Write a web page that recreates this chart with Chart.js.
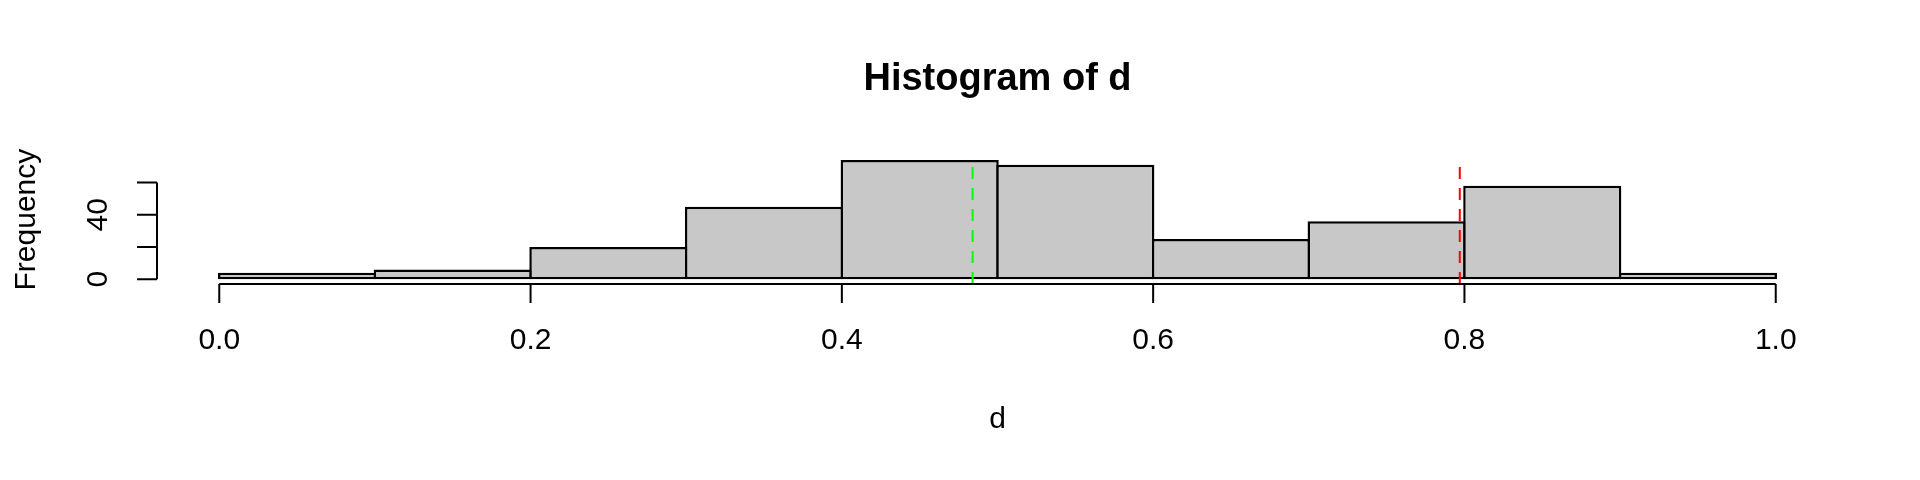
<!DOCTYPE html>
<html>
<head>
<meta charset="utf-8">
<script src="https://cdn.jsdelivr.net/npm/chart.js@4.4.1/dist/chart.umd.min.js"></script>
<style>
  html, body { margin: 0; padding: 0; background: #fff; }
  .chart-wrap { width: 1920px; height: 480px; }
</style>
</head>
<body>
<div class="chart-wrap"><canvas id="histChart"></canvas></div>
<script>
// histogram data
const breaks = [0, 0.1, 0.2, 0.3, 0.4, 0.5, 0.6, 0.7, 0.8, 0.9, 1.0];
const counts = [4, 6, 20, 45, 74, 71, 25, 36, 58, 4];

// dashed reference lines
const meanD = 0.484;
const refD = 0.797;
const refTop = 70;

// ticks
const xTicks = [0, 0.2, 0.4, 0.6, 0.8, 1.0];
const yTicks = [0, 20, 40, 60];
const yTickLabels = ['0', '', '40', ''];

const fontFamily = '"Liberation Sans", Arial, Helvetica, sans-serif';

// R style axis range: data range + 4% each side
const yMax = Math.max(...counts) * 1.04;
const yMin = -Math.max(...counts) * 0.04;
const xMin = breaks[0] - 0.04 * (breaks[breaks.length - 1] - breaks[0]);
const xMax = breaks[breaks.length - 1] + 0.04 * (breaks[breaks.length - 1] - breaks[0]);

const barData = counts.map((c, i) => ({ x: (breaks[i] + breaks[i + 1]) / 2, y: c }));

// axes drawn like base R graphics (lines only span the tick range)
const rAxes = {
  id: 'rAxes',
  afterDatasetsDraw(chart) {
    const { ctx, chartArea } = chart;
    const x = chart.scales.x;
    const y = chart.scales.y;
    ctx.save();
    ctx.strokeStyle = '#000';
    ctx.fillStyle = '#000';
    ctx.lineWidth = 2;
    ctx.font = '30px ' + fontFamily;

    // x axis
    const xb = chartArea.bottom;
    ctx.beginPath();
    ctx.moveTo(x.getPixelForValue(xTicks[0]), xb);
    ctx.lineTo(x.getPixelForValue(xTicks[xTicks.length - 1]), xb);
    xTicks.forEach((v) => {
      const px = x.getPixelForValue(v);
      ctx.moveTo(px, xb);
      ctx.lineTo(px, xb + 19);
    });
    ctx.stroke();
    ctx.textAlign = 'center';
    ctx.textBaseline = 'middle';
    xTicks.forEach((v) => {
      ctx.fillText(v.toFixed(1), x.getPixelForValue(v), xb + 57);
    });

    // y axis
    const yl = chartArea.left;
    ctx.beginPath();
    ctx.moveTo(yl, y.getPixelForValue(yTicks[0]));
    ctx.lineTo(yl, y.getPixelForValue(yTicks[yTicks.length - 1]));
    yTicks.forEach((v) => {
      const py = y.getPixelForValue(v);
      ctx.moveTo(yl, py);
      ctx.lineTo(yl - 20, py);
    });
    ctx.stroke();
    yTicks.forEach((v, i) => {
      if (!yTickLabels[i]) return;
      ctx.save();
      ctx.translate(yl - 58, y.getPixelForValue(v));
      ctx.rotate(-Math.PI / 2);
      ctx.fillText(yTickLabels[i], 0, 0);
      ctx.restore();
    });

    // axis titles
    ctx.fillText('d', (chartArea.left + chartArea.right) / 2, 420);
    ctx.save();
    ctx.translate(27, (chartArea.top + chartArea.bottom) / 2);
    ctx.rotate(-Math.PI / 2);
    ctx.fillText('Frequency', 0, 0);
    ctx.restore();

    ctx.restore();
  },
};

const config = {
  data: {
    datasets: [
      {
        type: 'line',
        label: 'mean',
        data: [{ x: meanD, y: yMin }, { x: meanD, y: refTop }],
        borderColor: '#00FF00',
        borderWidth: 2,
        borderDash: [12, 9],
        pointRadius: 0,
        order: 1,
      },
      {
        type: 'line',
        label: 'ref',
        data: [{ x: refD, y: yMin }, { x: refD, y: refTop }],
        borderColor: '#FF0000',
        borderWidth: 2,
        borderDash: [12, 9],
        pointRadius: 0,
        order: 1,
      },
      {
        type: 'bar',
        label: 'd',
        data: barData,
        backgroundColor: '#C8C8C8',
        borderColor: '#000',
        borderWidth: 2.5,
        borderSkipped: false,
        barPercentage: 1.016,
        categoryPercentage: 1,
        order: 2,
      },
    ],
  },
  options: {
    responsive: true,
    maintainAspectRatio: false,
    animation: false,
    layout: {
      padding: { left: 157, right: 82, top: 0, bottom: 196 },
    },
    plugins: {
      legend: { display: false },
      tooltip: { enabled: false },
      title: {
        display: true,
        text: 'Histogram of d',
        color: '#000',
        font: { family: fontFamily, size: 38, weight: 'bold' },
        padding: { top: 57, bottom: 52.6 },
      },
    },
    scales: {
      x: {
        type: 'linear',
        display: false,
        offset: false,
        min: xMin,
        max: xMax,
        afterBuildTicks: (scale) => {
          scale.ticks = xTicks.map((v) => ({ value: v }));
        },
      },
      y: {
        type: 'linear',
        display: false,
        min: yMin,
        max: yMax,
        afterBuildTicks: (scale) => {
          scale.ticks = yTicks.map((v) => ({ value: v }));
        },
      },
    },
  },
  plugins: [rAxes],
};

new Chart(document.getElementById('histChart').getContext('2d'), config);
</script>
</body>
</html>
